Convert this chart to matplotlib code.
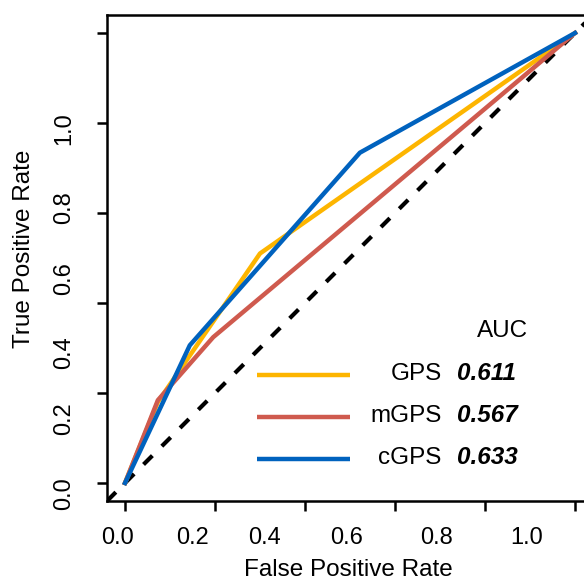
import matplotlib
matplotlib.use("Agg")
import matplotlib.pyplot as plt

plt.rcParams['font.family'] = ['Liberation Sans', 'DejaVu Sans']

# ROC points
fpr_gps = [0, 0.073, 0.30, 1]
tpr_gps = [0, 0.18, 0.51, 1]
fpr_mgps = [0, 0.073, 0.196, 1]
tpr_mgps = [0, 0.184, 0.324, 1]
fpr_cgps = [0, 0.144, 0.522, 1]
tpr_cgps = [0, 0.306, 0.734, 1]

names = ["GPS", "mGPS", "cGPS"]
aucs = ["0.611", "0.567", "0.633"]
colors = ["#FDB500", "#CF5A4E", "#0062BE"]

tick_vals = [0, 0.2, 0.4, 0.6, 0.8, 1.0]
tick_text = ["0.0", "0.2", "0.4", "0.6", "0.8", "1.0"]
# the printed labels sit off their ticks in the original
xlab_pos = [-0.016, 0.149, 0.311, 0.493, 0.693, 0.893]
ylab_pos = [-0.023, 0.144, 0.29, 0.455, 0.612, 0.787]

fig = plt.figure(figsize=(5.84, 5.87), dpi=100)
ax = fig.add_axes([107/584, 86/587, 486/584, 486/587])
ax.set_xlim(-0.04, 1.04)
ax.set_ylim(-0.04, 1.04)

ax.axline((0, 0), (1, 1), color="black", lw=3.0, linestyle=(0, (3.0, 3.2)))
lw = 3.2
ax.plot(fpr_gps, tpr_gps, color=colors[0], lw=lw)
ax.plot(fpr_mgps, tpr_mgps, color=colors[1], lw=lw)
ax.plot(fpr_cgps, tpr_cgps, color=colors[2], lw=lw)

for s in ax.spines.values():
    s.set_linewidth(1.8)

ax.set_xticks(tick_vals, [""] * 6)
ax.set_yticks(tick_vals, [""] * 6)
ax.set_xticks(xlab_pos, tick_text, minor=True)
ax.set_yticks(ylab_pos, tick_text, minor=True, rotation=90, va="center")
ax.tick_params(which="major", length=7, width=1.8, direction="out")
ax.tick_params(which="minor", length=0, labelsize=17)
ax.tick_params(axis="x", which="minor", pad=19)
ax.tick_params(axis="y", which="minor", pad=23)

ax.set_xlabel("False Positive Rate", fontsize=17.5, va="center")
ax.xaxis.set_label_coords(0.497, -0.142)
ax.set_ylabel("True Positive Rate", fontsize=17.5, va="center")
ax.yaxis.set_label_coords(-0.17, 0.5185)

# legend
ax.text(0.8128, 0.3374, "AUC", transform=ax.transAxes, ha="center",
        va="baseline", fontsize=17.5)
row_y = [0.2593, 0.1728, 0.0864]
for i in range(3):
    ax.plot([0.3086, 0.5], [row_y[i], row_y[i]], color=colors[i], lw=lw,
            transform=ax.transAxes, solid_capstyle="butt")
    ax.text(0.689, row_y[i] - 0.0103, names[i], transform=ax.transAxes,
            ha="right", va="baseline", fontsize=17.5)
    ax.text(0.7202, row_y[i] - 0.0103, aucs[i], transform=ax.transAxes,
            ha="left", va="baseline", fontsize=17.5, fontweight="bold",
            fontstyle="italic")

fig.savefig("out.png", dpi=100)
